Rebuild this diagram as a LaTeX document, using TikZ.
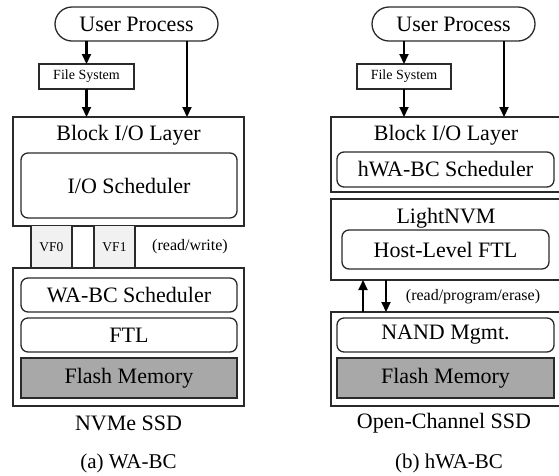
\documentclass[tikz,border=0pt]{standalone}
\usepackage{fontspec}
\setmainfont{Liberation Serif}
\usetikzlibrary{arrows.meta}
\definecolor{edge}{HTML}{2A2A2A}
\definecolor{vffill}{HTML}{F1F1F1}
\definecolor{flashfill}{HTML}{A8A8A8}
\tikzset{
  frame/.style={draw=edge, line width=1.3pt, inner sep=0pt, outer sep=0pt},
  layerbox/.style={frame, rectangle},
  roundbox/.style={frame, rectangle, rounded corners=7pt},
  pill/.style={frame, rectangle, rounded corners=17pt},
  flashbox/.style={frame, rectangle, fill=flashfill},
  vfbox/.style={rectangle, fill=vffill, inner sep=0pt, outer sep=0pt},
  big/.style={font=\fontsize{22}{26}\selectfont},
  small/.style={font=\fontsize{14}{16}\selectfont},
  note/.style={font=\fontsize{16}{19}\selectfont},
  captext/.style={font=\fontsize{21}{25}\selectfont},
  flow/.style={draw=black, line width=2.1pt, -{Triangle[length=10pt,width=9pt]}},
}
\begin{document}
\begin{tikzpicture}[x=1pt,y=-1pt]
\useasboundingbox (0,0) rectangle (559,475);

% ---------------- (a) WA-BC ----------------
\node[pill, big, minimum width=163, minimum height=34] (up1) at (136.5,24) {User Process};
\node[layerbox, small, minimum width=95, minimum height=25] (fs1) at (86.5,76.5) {File System};
\node[layerbox, minimum width=231, minimum height=109] (blk1) at (128.5,171.5) {};
\node[big] (blk1t) at (128.5,135) {Block I/O Layer};
\node[roundbox, big, minimum width=216, minimum height=65] (ios1) at (129,185.5) {I/O Scheduler};

\coordinate (r1) at (187,0);
\draw[flow] (up1.south -| fs1.north) -- (fs1.north);
\draw[flow] (fs1.south) -- (blk1.north -| fs1.south);
\draw[flow] (up1.south -| r1) -- (blk1.north -| r1);

% virtual functions between host and device
\node[vfbox, minimum width=41, minimum height=42, font=\fontsize{13.5}{16}\selectfont] (vf0) at (51.5,247) {VF0};
\node[vfbox, minimum width=41, minimum height=42, font=\fontsize{13.5}{16}\selectfont] (vf1) at (114.5,247) {VF1};
\foreach \v in {vf0,vf1}{
  \draw[edge, line width=2.2pt] (\v.north west) -- (\v.south west);
  \draw[edge, line width=2.2pt] (\v.north east) -- (\v.south east);
}
\node[note] (rw) at (190,247) {(read/write)};

\node[layerbox, minimum width=231, minimum height=138] (ssd1) at (128.5,337) {};
\node[roundbox, big, minimum width=216, minimum height=34] (wabc) at (129,295) {WA-BC Scheduler};
\node[roundbox, big, minimum width=216, minimum height=34] (ftl) at (129,335) {FTL};
\node[flashbox, big, minimum width=216, minimum height=40] (flash1) at (129,378) {Flash Memory};
\node[big] (ssd1t) at (128.5,423) {NVMe SSD};
\node[captext] (capa) at (128.5,463) {(a) WA-BC};

% ---------------- (b) hWA-BC ----------------
\node[pill, big, minimum width=163, minimum height=34] (up2) at (453.5,24) {User Process};
\node[layerbox, small, minimum width=94, minimum height=25] (fs2) at (404,76.5) {File System};
\node[layerbox, minimum width=230, minimum height=75] (blk2) at (446,154.5) {};
\node[big] (blk2t) at (446,135) {Block I/O Layer};
\node[roundbox, big, minimum width=217, minimum height=35] (hwabc) at (445.5,169.5) {hWA-BC Scheduler};

\coordinate (r2) at (504,0);
\draw[flow] (up2.south -| fs2.north) -- (fs2.north);
\draw[flow] (fs2.south) -- (blk2.north -| fs2.south);
\draw[flow] (up2.south -| r2) -- (blk2.north -| r2);

\node[layerbox, minimum width=230, minimum height=81] (lnvm) at (446,239.5) {};
\node[big] (lnvmt) at (446,218) {LightNVM};
\node[roundbox, big, minimum width=207, minimum height=39] (hftl) at (445.5,249.5) {Host-Level FTL};

\node[layerbox, minimum width=230, minimum height=94] (ocssd) at (446,359) {};
\node[roundbox, big, minimum width=217, minimum height=34] (nand) at (445.5,335) {NAND Mgmt.};
\node[flashbox, big, minimum width=217, minimum height=40] (flash2) at (445.5,378) {Flash Memory};

\coordinate (up) at (363,0);
\coordinate (dn) at (386,0);
\draw[flow] (ocssd.north -| up) -- (lnvm.south -| up);
\draw[flow] (lnvm.south -| dn) -- (ocssd.north -| dn);
\node[note] (rpe) at (473,297) {(read/program/erase)};

\node[big] (ocssdt) at (444,423) {Open-Channel SSD};
\node[captext] (capb) at (449,463) {(b) hWA-BC};
\end{tikzpicture}
\end{document}
